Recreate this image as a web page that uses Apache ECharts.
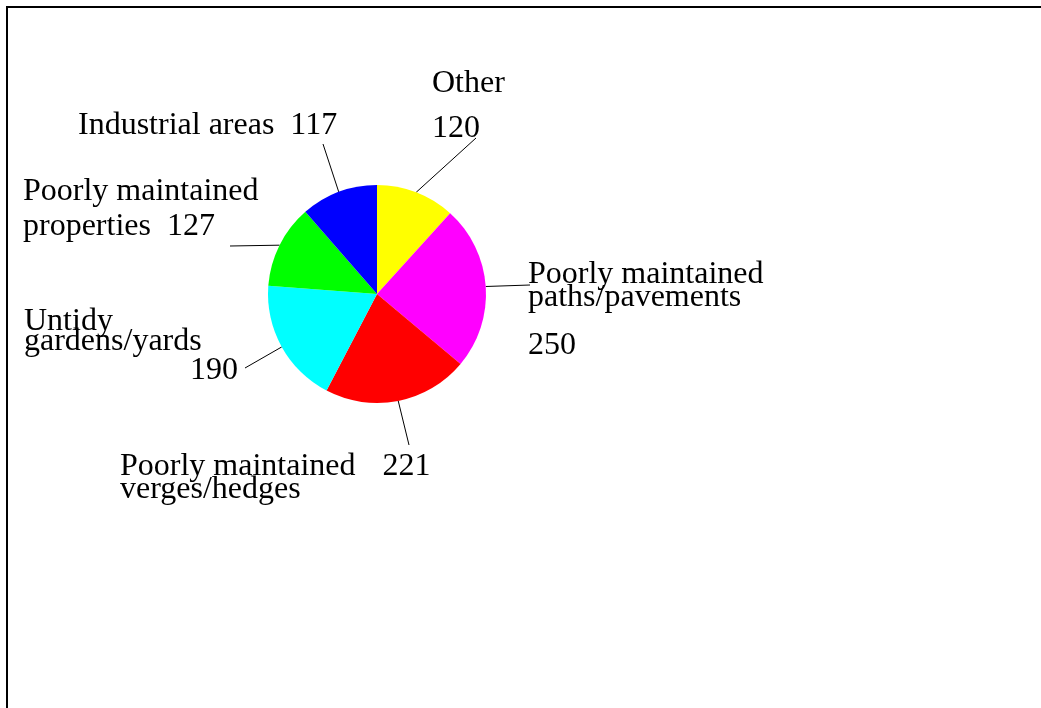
<!DOCTYPE html>
<html>
<head>
<meta charset="utf-8">
<script src="https://cdn.jsdelivr.net/npm/echarts@6/dist/echarts.min.js"></script>
<style>
html,body{margin:0;padding:0;background:#fff;}
#chart{width:1041px;height:708px;}
</style>
</head>
<body>
<div id="chart"></div>
<script>
const categories = ['Other', 'Poorly maintained paths/pavements', 'Poorly maintained verges/hedges', 'Untidy gardens/yards', 'Poorly maintained properties', 'Industrial areas'];
const values = [120, 250, 221, 190, 127, 117];
const colors = ['#ffff00', '#ff00ff', '#ff0000', '#00ffff', '#00ff00', '#0000ff'];

const FONT = 'Liberation Serif';
const FS = 32;

function splitName(n) {
  if (n.indexOf('Poorly maintained ') === 0) return n.replace('maintained ', 'maintained\n');
  return n.replace(' ', '\n');
}

// label text arrangement per slice
function labelText(i) {
  const n = categories[i], v = values[i];
  const parts = splitName(n).split('\n');
  switch (i) {
    case 0: return n + '\n' + v;
    case 1: return parts[0] + '\n' + parts[1] + '\n{g|' + v + '}';
    case 2: return parts[0] + '{p|' + v + '}\n' + parts[1];
    case 3: return parts[0] + '\n' + parts[1] + '\n{r|' + v + '}';
    case 4: return parts[0] + '\n' + parts[1] + '  ' + v;
    case 5: return n + '  ' + v;
  }
}
const lineHeights = [45, 23, 23, 20, 35, 36];
const labelPos = [[432, 61], [528, 263], [120, 455], [24, 312], [23, 174], [78, 108]];
// where each guide line ends (near its label)
const guideEnds = [[476, 138], [530, 285], [409, 445], [245, 368], [230, 246], [323, 144]];

const base = {fontFamily: FONT, fontSize: FS, color: '#000'};
const data = categories.map((c, i) => ({
  name: c,
  value: values[i],
  itemStyle: {color: colors[i]},
  label: {formatter: labelText(i), lineHeight: lineHeights[i]}
}));

const chart = echarts.init(document.getElementById('chart'), null, {renderer: 'canvas'});
chart.setOption({
  backgroundColor: '#fff',
  animation: false,
  graphic: [{
    type: 'rect',
    shape: {x: 7, y: 7, width: 1100, height: 800},
    style: {fill: 'none', stroke: '#000', lineWidth: 2},
    z: 10
  }],
  series: [{
    type: 'pie',
    center: [377, 294],
    radius: 109,
    startAngle: 90,
    clockwise: true,
    avoidLabelOverlap: false,
    silent: true,
    data: data,
    itemStyle: {borderWidth: 0},
    label: {
      show: true,
      position: 'outside',
      overflow: 'none',
      fontFamily: FONT,
      fontSize: FS,
      color: '#000',
      rich: {
        g: Object.assign({}, base, {lineHeight: 73}),
        p: Object.assign({}, base, {padding: [0, 0, 0, 27]}),
        r: Object.assign({}, base, {lineHeight: 38, width: 214, align: 'right'})
      }
    },
    labelLine: {
      show: true,
      length: 10,
      length2: 0,
      smooth: false,
      lineStyle: {color: '#000', width: 1}
    },
    labelLayout: function (params) {
      const i = params.dataIndex;
      const p = labelPos[i];
      const out = {x: p[0], y: p[1], align: 'left', verticalAlign: 'top'};
      if (params.labelLinePoints && params.labelLinePoints.length) {
        out.labelLinePoints = [params.labelLinePoints[0].slice(), guideEnds[i].slice()];
      }
      return out;
    }
  }]
});
</script>
</body>
</html>
